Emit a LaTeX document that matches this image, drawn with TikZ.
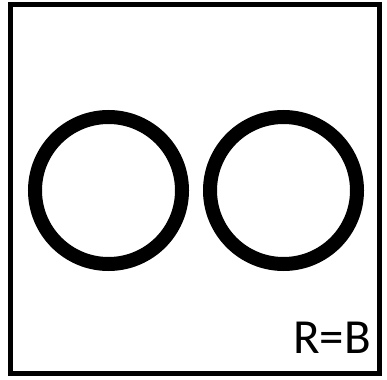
\documentclass[tikz,border=0pt]{standalone}
\usepackage{fontspec}
\setmainfont{Carlito}
\usepackage{tikz}
\usetikzlibrary{positioning}
\tikzset{
  frame/.style={rectangle, draw=black, line width=4.5pt,
    minimum width=369pt, minimum height=369pt, inner sep=0pt},
  ring/.style={circle, draw=black, line width=14pt,
    minimum size=147pt, inner sep=0pt},
  tag/.style={font=\fontsize{49}{56}\selectfont, inner sep=0pt}
}

\begin{document}
\begin{tikzpicture}[x=1pt, y=-1pt]
  \useasboundingbox (0,0) rectangle (387,379);
  % Outer frame
  \node[frame] (box) at (195,189) {};

  % Two rings
  \node[ring] (ringl) at (108.5,190.5) {};
  \node[ring] (ringr) at (283.5,190.5) {};

  % Label
  \node[tag, anchor=base east] (lbl) at (371,353) {R=B};
\end{tikzpicture}
\end{document}
